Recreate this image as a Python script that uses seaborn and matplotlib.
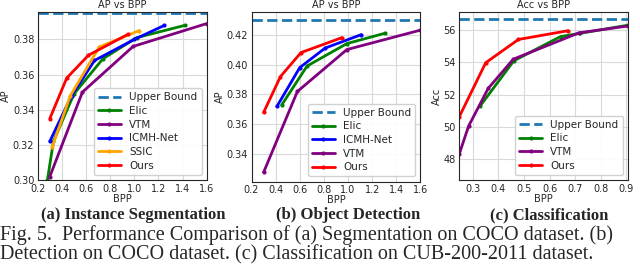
#!/usr/bin/env python3

import pandas as pd
import seaborn as sns
import matplotlib.pyplot as plt

# (a) instance segmentation, AP vs BPP
seg_upper = 0.395
seg_elic_bpp = [0.28, 0.33, 0.50, 0.74, 1.02, 1.42]
seg_elic_ap = [0.300, 0.322, 0.349, 0.369, 0.381, 0.388]
seg_vtm_bpp = [0.30, 0.57, 0.99, 1.60]
seg_vtm_ap = [0.302, 0.350, 0.376, 0.389]
seg_icmh_bpp = [0.30, 0.48, 0.67, 1.00, 1.25]
seg_icmh_ap = [0.322, 0.348, 0.368, 0.380, 0.388]
seg_ssic_bpp = [0.32, 0.47, 0.71, 1.04]
seg_ssic_ap = [0.319, 0.348, 0.3757, 0.385]
seg_ours_bpp = [0.30, 0.44, 0.62, 0.95]
seg_ours_ap = [0.335, 0.358, 0.371, 0.383]

# (b) object detection, AP vs BPP
det_upper = 0.430
det_elic_bpp = [0.45, 0.66, 0.99, 1.31]
det_elic_ap = [0.373, 0.399, 0.414, 0.421]
det_icmh_bpp = [0.41, 0.60, 0.81, 1.11]
det_icmh_ap = [0.372, 0.398, 0.411, 0.420]
det_vtm_bpp = [0.30, 0.58, 0.99, 1.60]
det_vtm_ap = [0.328, 0.382, 0.410, 0.423]
det_ours_bpp = [0.30, 0.44, 0.61, 0.95]
det_ours_ap = [0.368, 0.392, 0.408, 0.418]

# (c) classification, Acc vs BPP
cls_upper = 56.68
cls_elic_bpp = [0.328, 0.46, 0.643, 0.72, 0.905]
cls_elic_acc = [51.3, 54.1, 55.6, 55.8, 56.3]
cls_vtm_bpp = [0.247, 0.283, 0.36, 0.458, 0.715, 0.905]
cls_vtm_acc = [48.35, 50.06, 52.4, 54.2, 55.83, 56.25]
cls_ours_bpp = [0.247, 0.35, 0.478, 0.672]
cls_ours_acc = [50.65, 53.98, 55.42, 55.96]

COLORS = {'Elic': 'green', 'VTM': 'purple', 'ICMH-Net': 'blue',
          'SSIC': 'orange', 'Ours': 'red'}

sns.set_style("whitegrid", {"axes.edgecolor": "0.15", "grid.color": "0.85"})
plt.rcParams['font.family'] = ['DejaVu Sans']
plt.rcParams['font.size'] = 7


def draw_panel(ax, title, ylabel, upper, series):
    ax.axhline(upper, color='#1f77b4', linestyle='--', linewidth=2, label='Upper Bound')
    for name, xs, ys in series:
        df = pd.DataFrame({'bpp': xs, 'val': ys})
        sns.lineplot(data=df, x='bpp', y='val', ax=ax, color=COLORS[name],
                     marker='o', markersize=3, markeredgewidth=0,
                     linewidth=2, label=name)
    ax.set_title(title, fontsize=7, pad=3)
    ax.set_xlabel('BPP', fontsize=7, labelpad=0)
    ax.set_ylabel(ylabel, fontsize=7, labelpad=1)
    ax.tick_params(labelsize=7, length=0, pad=2.5)
    ax.legend(loc='lower right', fontsize=7.5, handlelength=2.2, borderpad=0.4,
              labelspacing=0.35, frameon=True, framealpha=0.9)


fig = plt.figure(figsize=(6.4, 2.64), dpi=100)
ax1 = fig.add_axes([0.059, 0.318, 0.264, 0.636])
ax2 = fig.add_axes([0.393, 0.312, 0.264, 0.642])
ax3 = fig.add_axes([0.717, 0.318, 0.264, 0.636])

draw_panel(ax1, 'AP vs BPP', 'AP', seg_upper, [
    ('Elic', seg_elic_bpp, seg_elic_ap),
    ('VTM', seg_vtm_bpp, seg_vtm_ap),
    ('ICMH-Net', seg_icmh_bpp, seg_icmh_ap),
    ('SSIC', seg_ssic_bpp, seg_ssic_ap),
    ('Ours', seg_ours_bpp, seg_ours_ap),
])
ax1.set_xlim(0.2, 1.6)
ax1.set_ylim(0.30, 0.3955)
ax1.set_xticks([0.2, 0.4, 0.6, 0.8, 1.0, 1.2, 1.4, 1.6])
ax1.set_yticks([0.30, 0.32, 0.34, 0.36, 0.38])

draw_panel(ax2, 'AP vs BPP', 'AP', det_upper, [
    ('Elic', det_elic_bpp, det_elic_ap),
    ('ICMH-Net', det_icmh_bpp, det_icmh_ap),
    ('VTM', det_vtm_bpp, det_vtm_ap),
    ('Ours', det_ours_bpp, det_ours_ap),
])
ax2.set_xlim(0.2, 1.6)
ax2.set_ylim(0.3218, 0.4350)
ax2.set_xticks([0.2, 0.4, 0.6, 0.8, 1.0, 1.2, 1.4, 1.6])
ax2.set_yticks([0.34, 0.36, 0.38, 0.40, 0.42])

draw_panel(ax3, 'Acc vs BPP', 'Acc', cls_upper, [
    ('Elic', cls_elic_bpp, cls_elic_acc),
    ('VTM', cls_vtm_bpp, cls_vtm_acc),
    ('Ours', cls_ours_bpp, cls_ours_acc),
])
ax3.set_xlim(0.245, 0.906)
ax3.set_ylim(46.72, 57.11)
ax3.set_xticks([0.3, 0.4, 0.5, 0.6, 0.7, 0.8, 0.9])
ax3.set_yticks([48, 50, 52, 54, 56])

serif = ['Liberation Serif', 'DejaVu Serif']
sub_y = 0.170
fig.text(0.208, sub_y, '(a) Instance Segmentation', ha='center', va='baseline',
         fontsize=12, fontweight='bold', family=serif)
fig.text(0.544, sub_y, '(b) Object Detection', ha='center', va='baseline',
         fontsize=12, fontweight='bold', family=serif)
fig.text(0.858, sub_y, '(c) Classification', ha='center', va='baseline',
         fontsize=12, fontweight='bold', family=serif)
caption = ('Fig. 5.  Performance Comparison of (a) Segmentation on COCO dataset. (b)\n'
           'Detection on COCO dataset. (c) Classification on CUB-200-2011 dataset.')
fig.text(0.0, 0.0, caption, ha='left', va='bottom', fontsize=14.5,
         linespacing=1.0, family=serif)

fig.savefig('out.png', dpi=100)
